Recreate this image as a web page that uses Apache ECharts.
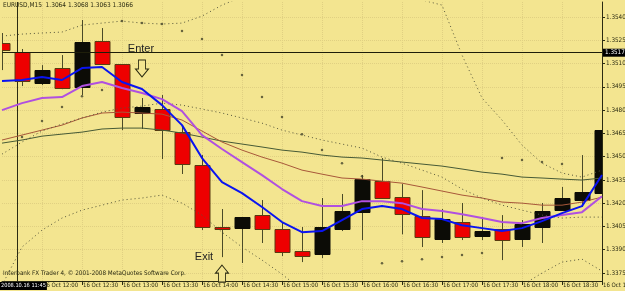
<!DOCTYPE html>
<html><head><meta charset="utf-8">
<script src="https://cdn.jsdelivr.net/npm/echarts@6/dist/echarts.min.js"></script>
<style>html,body{margin:0;padding:0;background:#F3E590;}#c{width:625px;height:291px;}</style>
</head><body><div id="c"></div>
<script>
const times = ['11:30','11:45','12:00','12:15','12:30','12:45','13:00','13:15','13:30','13:45','14:00','14:15','14:30','14:45','15:00','15:15','15:30','15:45','16:00','16:15','16:30','16:45','17:00','17:15','17:30','17:45','18:00','18:15','18:30','18:45','19:00'];
const openP  = [1.35232,1.35174,1.34974,1.35071,1.34948,1.35245,1.35097,1.34781,1.34807,1.34658,1.34445,1.34046,1.34040,1.34123,1.34033,1.33891,1.33872,1.34033,1.34143,1.34342,1.34239,1.34117,1.33969,1.34078,1.33988,1.34033,1.33969,1.34046,1.34156,1.34220,1.34265];
const closeP = [1.35187,1.34987,1.35058,1.34942,1.35239,1.35097,1.34755,1.34820,1.34671,1.34452,1.34046,1.34033,1.34110,1.34033,1.33884,1.33859,1.34046,1.34150,1.34355,1.34233,1.34130,1.33982,1.34098,1.33982,1.34020,1.33962,1.34066,1.34150,1.34233,1.34272,1.34672];
const lowP   = [1.35058,1.34955,1.34961,1.34935,1.34897,1.35097,1.34671,1.34678,1.34484,1.34388,1.34027,1.33852,1.33814,1.33943,1.33859,1.33820,1.33846,1.34020,1.33962,1.34233,1.33999,1.33917,1.33943,1.33962,1.33962,1.33833,1.33917,1.33943,1.34156,1.34175,1.34265];
const highP  = [1.35297,1.35194,1.35090,1.35155,1.35381,1.35329,1.35097,1.34878,1.34897,1.34703,1.34510,1.34162,1.34110,1.34220,1.34078,1.34046,1.34233,1.34259,1.34381,1.34491,1.34323,1.34284,1.34162,1.34201,1.34111,1.34123,1.34091,1.34201,1.34304,1.34510,1.34685];
const blueMA   = [1.34987,1.34994,1.35013,1.34994,1.35071,1.35078,1.34981,1.34936,1.34832,1.34703,1.34491,1.34336,1.34265,1.34175,1.34078,1.34013,1.34020,1.34091,1.34162,1.34181,1.34162,1.34104,1.34097,1.34058,1.34039,1.34020,1.34039,1.34084,1.34136,1.34181,1.34381];
const purpleMA = [1.34800,1.34845,1.34878,1.34884,1.34955,1.34981,1.34942,1.34910,1.34871,1.34794,1.34639,1.34549,1.34465,1.34381,1.34291,1.34213,1.34181,1.34181,1.34213,1.34213,1.34200,1.34162,1.34149,1.34129,1.34104,1.34078,1.34071,1.34104,1.34123,1.34142,1.34245];
const brownMA  = [1.34607,1.34639,1.34671,1.34703,1.34749,1.34781,1.34787,1.34781,1.34774,1.34736,1.34665,1.34594,1.34542,1.34497,1.34458,1.34413,1.34387,1.34362,1.34355,1.34342,1.34329,1.34304,1.34278,1.34252,1.34233,1.34207,1.34200,1.34187,1.34187,1.34207,1.34239];
const greenMA  = [1.34587,1.34607,1.34632,1.34645,1.34658,1.34678,1.34684,1.34684,1.34671,1.34652,1.34626,1.34600,1.34581,1.34562,1.34542,1.34529,1.34510,1.34497,1.34491,1.34478,1.34465,1.34452,1.34439,1.34420,1.34400,1.34387,1.34368,1.34362,1.34355,1.34349,1.34362];
const bandUpper = [1.35277,1.35290,1.35297,1.35303,1.35348,1.35361,1.35374,1.35361,1.35355,1.35361,1.35406,1.35477,1.35530,1.35560,1.35580,1.35590,1.35580,1.35570,1.35560,1.35540,1.35520,1.35510,1.35477,1.35155,1.34878,1.34736,1.34574,1.34458,1.34394,1.34368,1.34413];
const bandMid   = [1.34516,1.34594,1.34665,1.34710,1.34749,1.34787,1.34813,1.34826,1.34845,1.34832,1.34807,1.34781,1.34749,1.34716,1.34671,1.34639,1.34607,1.34581,1.34555,1.34497,1.34458,1.34413,1.34368,1.34291,1.34233,1.34187,1.34155,1.34123,1.34104,1.34110,1.34110];
const bandLower = [1.33671,1.33917,1.34026,1.34104,1.34155,1.34187,1.34220,1.34233,1.34252,1.34200,1.34123,1.34013,1.33917,1.33833,1.33742,1.33639,1.33580,1.33540,1.33520,1.33510,1.33510,1.33520,1.33540,1.33570,1.33610,1.33601,1.33671,1.33749,1.33820,1.33839,1.33762];
const sarDots = [null,1.34626,1.34729,1.34820,1.34890,1.34929,1.35374,1.35361,1.35355,1.35310,1.35258,1.35155,1.35026,1.34884,1.34755,1.34645,1.34542,1.34458,1.34374,1.33813,1.33826,1.33839,1.33852,1.33865,1.33878,1.34491,1.34478,1.34465,1.34452,null,null];
const yTicks = [1.3375,1.3390,1.3405,1.3420,1.3435,1.3450,1.3465,1.3480,1.3495,1.3510,1.3525,1.3540];
const hLine = 1.3517;

const F = "'Liberation Sans Narrow','DejaVu Sans Condensed','Liberation Sans',sans-serif";
const INK = '#2b2b12';
const BG = '#F3E590';

const candleData = times.map((t,i)=>[i, openP[i], closeP[i], lowP[i], highP[i]]);

function renderCandle(params, api){
  const i = api.value(0);
  const o = api.coord([i, api.value(1)]);
  const c = api.coord([i, api.value(2)]);
  const l = api.coord([i, api.value(3)]);
  const h = api.coord([i, api.value(4)]);
  const w = Math.round(api.size([1,0])[0]*0.75);
  const up = api.value(2) >= api.value(1);
  const x = Math.round(o[0]);
  const top = Math.round(Math.min(o[1],c[1])), bot = Math.round(Math.max(o[1],c[1]));
  return {type:'group', children:[
    {type:'line', shape:{x1:x+0.5,y1:h[1],x2:x+0.5,y2:l[1]}, style:{stroke:'#4a4a28', lineWidth:1}},
    {type:'rect', shape:{x:x-w/2+0.5, y:top+0.5, width:w, height:Math.max(bot-top,1)},
     style:{fill: up ? '#0c0c06' : '#ee0000', stroke: up ? '#0c0c06' : '#5a3a10', lineWidth:1}}
  ]};
}

const arrowDown = 'path://M3,0 L10,0 L10,9 L13,9 L6.5,17 L0,9 L3,9 Z';
const arrowUp = 'path://M6.5,0 L13,8 L10,8 L10,17 L3,17 L3,8 L0,8 Z';

const chart = echarts.init(document.getElementById('c'), null, {renderer:'canvas'});
const lbl = idx => idx % 2 === 0 && idx > 0;
chart.setOption({
  backgroundColor: BG,
  animation:false,
  title:{text:'EURUSD,M15  1.3064 1.3068 1.3063 1.3066', left:3, top:2, padding:0,
    textStyle:{fontSize:6.5, fontWeight:'normal', color:INK, fontFamily:F}},
  grid:{left:2, right:23, top:2, bottom:10, containLabel:false, outerBoundsMode:'none'},
  xAxis:{type:'category', data:times, boundaryGap:false,
    axisLine:{lineStyle:{color:INK}},
    axisTick:{show:true, interval:lbl, length:4, lineStyle:{color:INK}},
    axisLabel:{interval:lbl, formatter:v=>'16 Oct '+v, align:'left', margin:1, padding:[0,0,0,1],
      fontSize:6, fontFamily:F, color:INK, hideOverlap:false},
    splitLine:{show:true, interval:lbl, lineStyle:{type:'dotted', color:'#e0d082'}}},
  yAxis:{type:'value', position:'right', min:1.33698, max:1.35497,
    axisLine:{show:true, lineStyle:{color:INK}},
    axisTick:{show:true, length:3, customValues:yTicks, lineStyle:{color:INK}},
    axisLabel:{customValues:yTicks, formatter:v=>v.toFixed(4), margin:4, fontSize:6.3, fontFamily:F, color:INK},
    splitLine:{show:true, lineStyle:{type:'dotted', color:'#e0d082'}}},
  graphic:[
    {type:'line', shape:{x1:17.5,y1:2,x2:17.5,y2:281}, style:{stroke:INK, lineWidth:1}, z:1},
    {type:'text', left:3, top:270, style:{text:'Interbank FX Trader 4, © 2001-2008 MetaQuotes Software Corp.', fontSize:6.3, fontFamily:F, fill:INK}, z:10},
    {type:'text', left:0, top:282, style:{text:'2008.10.16 11:45', fontSize:5.6, fontFamily:F, fill:'#ffffff', backgroundColor:'#000000', padding:[1,1,1,1]}, z:10}
  ],
  series:[
    {type:'custom', name:'candles', renderItem:renderCandle, data:candleData, encode:{x:0, y:[1,2,3,4]}, clip:true, z:2,
     markPoint:{silent:true, data:[
       {coord:[times[7],1.35068], symbol:arrowDown, symbolSize:[13,17], itemStyle:{color:BG, borderColor:INK, borderWidth:1}, label:{show:false}},
       {coord:[times[11],1.33746], symbol:arrowUp, symbolSize:[13,17], itemStyle:{color:BG, borderColor:INK, borderWidth:1}, label:{show:false}},
       {coord:[times[7],1.35197], symbol:'rect', symbolSize:1, itemStyle:{color:'rgba(0,0,0,0)'}, label:{show:true, position:'inside', formatter:'Enter', fontSize:11, fontFamily:'Liberation Sans', color:'#222', offset:[-1,0]}},
       {coord:[times[10],1.33852], symbol:'rect', symbolSize:1, itemStyle:{color:'rgba(0,0,0,0)'}, label:{show:true, position:'inside', formatter:'Exit', fontSize:11, fontFamily:'Liberation Sans', color:'#222', offset:[2,0]}}
     ]}},
    {type:'line', data:greenMA, symbol:'none', lineStyle:{color:'#465a36', width:1}, z:3,
     markLine:{silent:true, symbol:'none', precision:4, data:[{yAxis:hLine}], lineStyle:{color:'#1e1e0a', width:1, type:'solid'},
       label:{show:true, position:'end', formatter:'1.3517', color:'#fff', backgroundColor:'#000', padding:[1,2,1,2], fontSize:6.3, fontFamily:F, distance:1}}},
    {type:'line', data:brownMA, symbol:'none', lineStyle:{color:'#a8583a', width:1}, z:3},
    {type:'line', data:bandUpper, symbol:'none', lineStyle:{color:'#55553a', width:1, type:[1,3]}, z:3},
    {type:'line', data:bandMid, symbol:'none', lineStyle:{color:'#55553a', width:1, type:[1,3]}, z:3},
    {type:'line', data:bandLower, symbol:'none', lineStyle:{color:'#55553a', width:1, type:[1,3]}, z:3},
    {type:'line', data:purpleMA, symbol:'none', lineStyle:{color:'#b050e0', width:2}, z:4},
    {type:'line', data:blueMA, symbol:'none', lineStyle:{color:'#0a14f0', width:2}, z:5},
    {type:'scatter', data:sarDots, symbol:'circle', symbolSize:2.5, itemStyle:{color:'#45452a'}, z:6}
  ]
});
</script></body></html>
